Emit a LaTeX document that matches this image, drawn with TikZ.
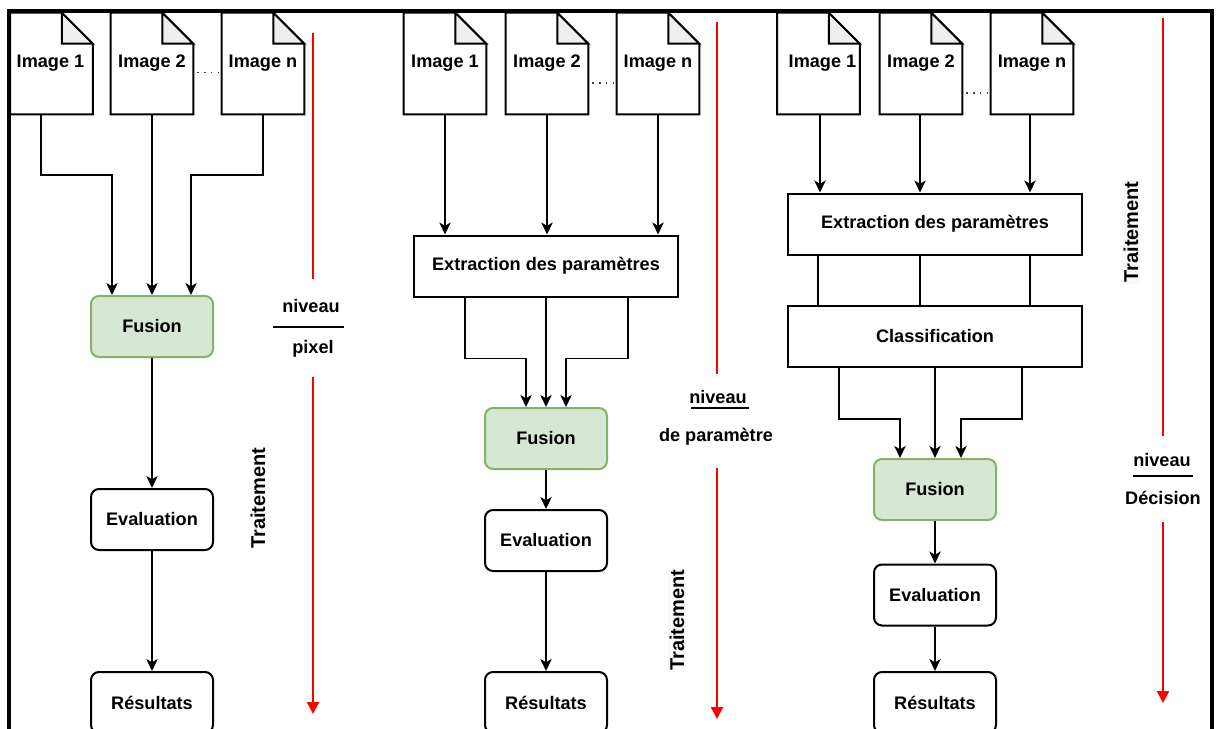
\documentclass[tikz,border=0pt]{standalone}
\usepackage{fontspec}
\setmainfont{Liberation Sans}
\usetikzlibrary{calc,arrows.meta}
\definecolor{fusfill}{HTML}{D5E8D4}
\definecolor{fusline}{HTML}{82B366}
\definecolor{foldgray}{HTML}{EEEEEE}
\definecolor{lblbg}{HTML}{F8F9FA}
\tikzset{
  lbl/.style={font=\bfseries\fontsize{13.6}{16}\selectfont, inner sep=1pt},
  doc/.style={lbl, minimum width=61.5pt, minimum height=75.75pt, inner sep=0pt},
  rbox/.style={lbl, draw=black, line width=1.5pt, rounded corners=6pt,
               minimum width=91.5pt, minimum height=45.75pt, fill=white},
  fusbox/.style={rbox, draw=fusline, fill=fusfill},
  sqbox/.style={lbl, draw=black, line width=1.5pt, minimum height=45.75pt},
  conn/.style={line width=1.45pt, black},
  arr/.style={conn, -{Stealth[length=9pt, width=8.5pt, inset=2.5pt]}},
  redl/.style={line width=1.7pt, red},
  redarr/.style={redl, -{Triangle[length=9pt, width=9pt]}},
  trt/.style={font=\bfseries\fontsize{15}{17}\selectfont, rotate=90, inner sep=1pt},
  dots/.style={line width=1.1pt, black!75, dash pattern=on 1.1pt off 4pt}
}
% document icon with folded top-right corner
\newcommand\docicon[1]{%
  \draw[line width=1.5pt, fill=white, line join=miter]
    (#1.south west) -- (#1.north west) -- ($(#1.north east)+(-31,0)$)
    -- ($(#1.north east)+(0,31)$) -- (#1.south east) -- cycle;
  \draw[line width=1.5pt, fill=foldgray, line join=miter]
    ($(#1.north east)+(-31,0)$) -- ($(#1.north east)+(-31,31)$)
    -- ($(#1.north east)+(0,31)$) -- cycle;
}
\begin{document}
\begin{tikzpicture}[x=0.75pt, y=-0.75pt]
\clip (0,0) rectangle (1216,728);
\fill[white] (0,0) rectangle (1216,728);
% outer frame
\draw[line width=2.8pt] (9,11) rectangle (1212,760);

% ---------- pixel level ----------
\node[doc] (d11) at (51.5,63.5) {};
\node[doc] (d12) at (152,63.5) {};
\node[doc] (d1n) at (263,63.5) {};
\docicon{d11}\docicon{d12}\docicon{d1n}
\node[lbl] at ($(d11.center)+(-1,-0.5)$) {Image 1};
\node[lbl] at ($(d12.center)+(0,-0.5)$) {Image 2};
\node[lbl] at ($(d1n.center)+(0,-0.5)$) {Image n};
\draw[dots] ($(d12.east)+(4,9)$) -- ($(d1n.west)+(-3,9)$);

\node[fusbox] (fus1) at (152,326.5) {Fusion};
\node[rbox] (eva1) at (152,519.5) {Evaluation};
\node[rbox] (res1) at (152,702.5) {Résultats};

\draw[arr] ($(d11.south)+(-10.5,0)$) -- ++(0,61) -| ($(fus1.north)+(-40,0)$);
\draw[arr] (d12.south) -- (fus1.north);
\draw[arr] (d1n.south) -- ++(0,61) -| ($(fus1.north)+(39,0)$);
\draw[arr] (fus1) -- (eva1);
\draw[arr] (eva1) -- (res1);

\coordinate (r1a) at (313,33);
\coordinate (r1b) at (313,714);
\node[lbl] (niv1) at (311,306) {niveau};
\node[lbl] (pix1) at (313,349) {pixel};
\coordinate (l1a) at (273,327);
\coordinate (l1b) at (344,327);
\draw[line width=1.2pt] (l1a) -- (l1b);
\draw[redl] (r1a) -- (313,279);
\draw[redarr] (313,377) -- (r1b);
\node[trt] (tr1) at (258,498) {Traitement};

% ---------- parameter level ----------
\node[doc] (d21) at (445,63.5) {};
\node[doc] (d22) at (547,63.5) {};
\node[doc] (d2n) at (658,63.5) {};
\docicon{d21}\docicon{d22}\docicon{d2n}
\node[lbl] at ($(d21.center)+(0,-0.5)$) {Image 1};
\node[lbl] at ($(d22.center)+(0,-0.5)$) {Image 2};
\node[lbl] at ($(d2n.center)+(0,-0.5)$) {Image n};
\draw[dots] ($(d22.east)+(4,19.5)$) -- ($(d2n.west)+(-3,19.5)$);

\node[sqbox, minimum width=198pt] (ext2) at (546,266) {Extraction des paramètres};
\node[fusbox] (fus2) at (546,438.5) {Fusion};
\node[rbox] (eva2) at (546,540.5) {Evaluation};
\node[rbox] (res2) at (546,702.5) {Résultats};

\draw[arr] (d21.south) -- (d21.south |- ext2.north);
\draw[arr] (d22.south) -- (d22.south |- ext2.north);
\draw[arr] (d2n.south) -- (d2n.south |- ext2.north);
\draw[arr] ($(ext2.south)+(-81,0)$) -- ++(0,61) -| ($(fus2.north)+(-20,0)$);
\draw[arr] (ext2.south -| fus2.north) -- (fus2.north);
\draw[arr] ($(ext2.south)+(82,0)$) -- ++(0,61) -| ($(fus2.north)+(20,0)$);
\draw[arr] (fus2) -- (eva2);
\draw[arr] (eva2) -- (res2);

\coordinate (r2a) at (717,22);
\coordinate (r2b) at (717,719);
\node[lbl] (niv2) at (718,397) {niveau};
\node[lbl] (par2) at (716,437) {de paramètre};
\coordinate (l2a) at (691,408);
\coordinate (l2b) at (749,408);
\draw[line width=1.2pt] (l2a) -- (l2b);
\draw[redl] (r2a) -- (717,374);
\draw[redarr] (717,468) -- (r2b);
\node[trt, fill=lblbg] (tr2) at (677,620) {Traitement};

% ---------- decision level ----------
\node[doc] (d31) at (818.5,63.5) {};
\node[doc] (d32) at (921,63.5) {};
\node[doc] (d3n) at (1032,63.5) {};
\docicon{d31}\docicon{d32}\docicon{d3n}
\node[lbl] at ($(d31.center)+(4,-0.5)$) {Image 1};
\node[lbl] at ($(d32.center)+(0,-0.5)$) {Image 2};
\node[lbl] at ($(d3n.center)+(0,-0.5)$) {Image n};
\draw[dots] ($(d32.east)+(4,29.5)$) -- ($(d3n.west)+(-3,29.5)$);

\node[sqbox, minimum width=220.5pt] (ext3) at (935,224) {Extraction des paramètres};
\node[sqbox, minimum width=220.5pt] (cls3) at (935,336.5) {Classification};
\node[fusbox] (fus3) at (935,489.5) {Fusion};
\node[rbox] (eva3) at (935,595) {Evaluation};
\node[rbox] (res3) at (935,702.5) {Résultats};

\draw[arr] ($(d31.south)+(1.5,0)$) -- ($(d31.south |- ext3.north)+(1.5,0)$);
\draw[arr] ($(d32.south)+(-1,0)$) -- ($(d32.south |- ext3.north)+(-1,0)$);
\draw[arr] ($(d3n.south)+(-2,0)$) -- ($(d3n.south |- ext3.north)+(-2,0)$);
\draw[conn] ($(d31.south |- ext3.south)+(-0.5,0)$) -- ($(d31.south |- cls3.north)+(-0.5,0)$);
\draw[conn] ($(d32.south |- ext3.south)+(-1,0)$) -- ($(d32.south |- cls3.north)+(-1,0)$);
\draw[conn] ($(d3n.south |- ext3.south)+(-2,0)$) -- ($(d3n.south |- cls3.north)+(-2,0)$);
\draw[arr] ($(cls3.south)+(-96,0)$) -- ++(0,51) -| ($(fus3.north)+(-35,0)$);
\draw[arr] (cls3.south) -- (fus3.north);
\draw[arr] ($(cls3.south)+(87,0)$) -- ++(0,51) -| ($(fus3.north)+(26,0)$);
\draw[arr] (fus3) -- (eva3);
\draw[arr] (eva3) -- (res3);

\coordinate (r3a) at (1163,18);
\coordinate (r3b) at (1163,703);
\node[lbl] (niv3) at (1162,460) {niveau};
\node[lbl] (dec3) at (1163,498) {Décision};
\coordinate (l3a) at (1133,476);
\coordinate (l3b) at (1193,476);
\draw[line width=1.2pt] (l3a) -- (l3b);
\draw[redl] (r3a) -- (1163,436);
\draw[redarr] (1163,522) -- (r3b);
\node[trt, fill=lblbg] (tr3) at (1131,232) {Traitement};
\end{tikzpicture}
\end{document}
